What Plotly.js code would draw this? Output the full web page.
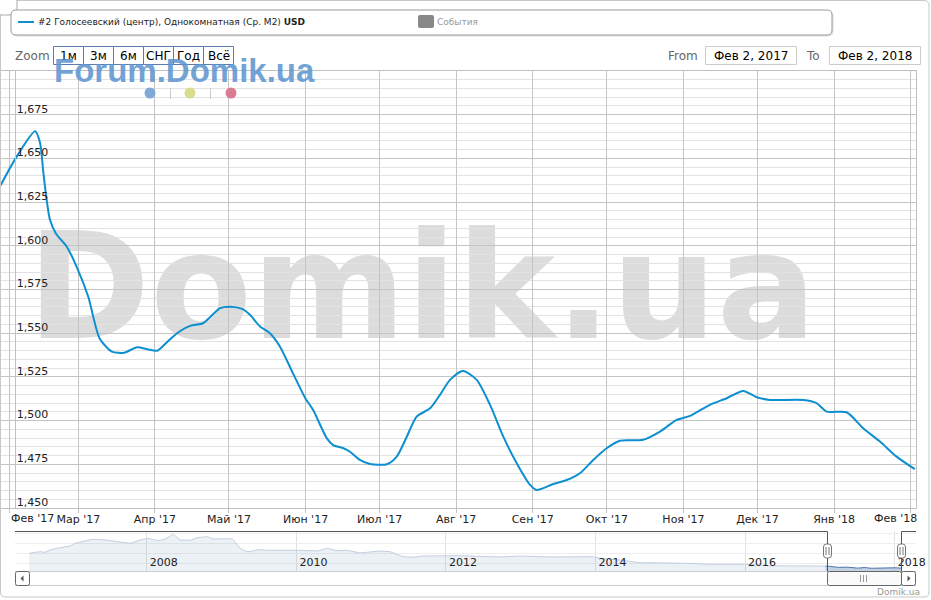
<!DOCTYPE html>
<html>
<head>
<meta charset="utf-8">
<script src="https://cdn.plot.ly/plotly-3.0.1.min.js"></script>
<style>html,body{margin:0;padding:0;background:#fff;}#chart{width:931px;height:600px;}</style>
</head>
<body>
<div id="chart"></div>
<script>
// ---- main series: #2 Голосеевский (центр), Однокомнатная (Ср. М2) USD ----
const mainDates = ['2017-01-28 07:00','2017-02-04 01:00','2017-02-11 12:00','2017-02-13 12:00','2017-02-14 20:00','2017-02-16 05:00','2017-02-17 12:00','2017-02-19 22:00','2017-02-24 08:00','2017-02-28 08:00','2017-03-05 00:00','2017-03-09 15:00','2017-03-14 14:00','2017-03-19 12:00','2017-03-24 20:00','2017-03-29 00:00','2017-04-02 00:00','2017-04-06 00:00','2017-04-10 00:00','2017-04-15 06:00','2017-04-20 12:00','2017-04-27 10:00','2017-05-01 10:00','2017-05-06 08:00','2017-05-09 12:00','2017-05-13 14:00','2017-05-17 14:00','2017-05-21 16:00','2017-05-26 22:00','2017-05-31 20:00','2017-06-04 02:00','2017-06-09 14:00','2017-06-12 04:00','2017-06-16 08:00','2017-06-19 00:00','2017-06-23 00:00','2017-06-27 02:00','2017-07-03 22:00','2017-07-07 22:00','2017-07-12 00:00','2017-07-16 00:00','2017-07-21 10:00','2017-07-25 10:00','2017-07-29 12:00','2017-08-03 17:00','2017-08-09 07:00','2017-08-14 17:00','2017-08-20 02:00','2017-08-25 12:00','2017-08-30 22:00','2017-09-02 14:00','2017-09-09 07:00','2017-09-14 17:00','2017-09-20 02:00','2017-09-25 12:00','2017-09-30 22:00','2017-10-06 07:00','2017-10-15 17:00','2017-10-22 12:00','2017-10-29 07:00','2017-11-03 17:00','2017-11-11 17:00','2017-11-18 12:00','2017-11-25 05:00','2017-11-30 17:00','2017-12-06 00:00','2017-12-19 12:00','2017-12-24 22:00','2017-12-29 00:00','2018-01-06 02:00','2018-01-12 19:00','2018-01-19 14:00','2018-01-26 07:00','2018-02-02 17:00'];
const mainValues = [1634,1651,1665.5,1659,1642,1626,1615,1607,1599.5,1588,1571,1547,1539.5,1538.8,1542,1540.8,1540,1545,1550,1554.2,1555.7,1564.3,1565.2,1563.9,1560.5,1553.8,1550,1542.3,1527,1513,1506,1490,1486,1484.2,1482.2,1477.5,1475.2,1475,1479.4,1490.8,1502.3,1507,1514.7,1523.3,1528.4,1523.3,1509,1490.8,1475.6,1463.2,1460.3,1463.7,1466,1469.9,1477.5,1484.2,1488.5,1489,1493.7,1500.4,1502.7,1509,1512.8,1517,1513.4,1511.8,1511.8,1510,1505.1,1504.8,1495.6,1488,1479.4,1472.2];

// ---- navigator history (before the selected window) ----
const navDates = ['2006-06-05','2006-07-28','2006-08-22','2006-09-15','2006-11-03','2006-12-22','2007-01-16','2007-03-06','2007-04-09','2007-06-12','2007-08-24','2007-10-12','2007-11-29','2008-01-07','2008-02-25','2008-03-31','2008-05-09','2008-06-12','2008-07-31','2008-09-03','2008-10-22','2008-11-20','2009-02-21','2009-04-01','2009-04-25','2009-05-19','2009-06-22','2009-08-25','2010-01-19','2010-04-12','2010-05-31','2010-07-19','2010-09-05','2010-11-07','2011-02-13','2011-04-03','2011-06-05','2011-07-24','2011-09-10','2012-01-06','2012-03-10','2012-09-22','2012-12-28','2013-05-23','2013-10-17','2013-12-19','2014-01-22','2014-04-29','2014-08-05','2014-11-11','2015-04-07','2015-07-13','2015-10-19','2016-01-24','2016-05-01','2016-08-07','2016-11-13'];
const navValues = [2644,2770,2723,2904,3085,3219,3431,3612,3746,3691,3557,3431,3691,3825,3636,3770,4140,3691,3668,3872,3951,3770,3794,3038,2825,2770,2927,2880,2880,2825,3038,2849,2880,2668,2825,2770,2376,2329,2431,2431,2455,2353,2431,2353,2329,2376,2250,2116,1904,1904,1856,1778,1801,1778,1667,1667,1644];

// ---- axis ticks / labels ----
const monthTicks = ['2017-02-01','2017-03-01','2017-04-01','2017-05-01','2017-06-01','2017-07-01','2017-08-01','2017-09-01','2017-10-01','2017-11-01','2017-12-01','2018-01-01','2018-02-01'];
const monthLabels = ["Фев '17","Мар '17","Апр '17","Май '17","Июн '17","Июл '17","Авг '17","Сен '17","Окт '17","Ноя '17","Дек '17","Янв '18","Фев '18"];
const yTicks = [1450,1475,1500,1525,1550,1575,1600,1625,1650,1675];
const navYearTicks = ['2008-01-01','2010-01-01','2012-01-01','2014-01-01','2016-01-01','2018-01-01'];
const navYearLabels = ['2008','2010','2012','2014','2016','2018'];
const zoomLabels = ['1м','3м','6м','СНГ','Год','Всё'];
const seriesName = '#2 Голосеевский (центр), Однокомнатная (Ср. М2)';
const seriesUnit = 'USD';
const fromDate = 'Фев 2, 2017';
const toDate = 'Фев 2, 2018';

const W = 931, H = 600;
const px = x => x / W;
const py = y => 1 - y / H;
const FONT = 'DejaVu Sans, sans-serif';

function rect(x0, y0, x1, y1, o) {
  return Object.assign({type:'rect', xref:'paper', yref:'paper', x0:px(x0), x1:px(x1), y0:py(y1), y1:py(y0), line:{width:1, color:'#ccc'}, fillcolor:'rgba(0,0,0,0)', layer:'above'}, o || {});
}
function line(x0, y0, x1, y1, color, o) {
  return Object.assign({type:'line', xref:'paper', yref:'paper', x0:px(x0), x1:px(x1), y0:py(y0), y1:py(y1), line:{width:1, color:color}, layer:'above'}, o || {});
}
function rrect(x0, y0, x1, y1, r, o) {
  const P = (x, y) => px(x) + ',' + py(y);
  const d = 'M' + P(x0 + r, y0) + ' L' + P(x1 - r, y0) + ' Q' + P(x1, y0) + ' ' + P(x1, y0 + r) +
    ' L' + P(x1, y1 - r) + ' Q' + P(x1, y1) + ' ' + P(x1 - r, y1) +
    ' L' + P(x0 + r, y1) + ' Q' + P(x0, y1) + ' ' + P(x0, y1 - r) +
    ' L' + P(x0, y0 + r) + ' Q' + P(x0, y0) + ' ' + P(x0 + r, y0) + ' Z';
  return Object.assign({type:'path', xref:'paper', yref:'paper', path:d, line:{width:1, color:'#aaa'}, fillcolor:'#fff', layer:'above'}, o || {});
}
function poly(pts, o) {
  const d = pts.map((p, i) => (i ? 'L' : 'M') + px(p[0]) + ',' + py(p[1])).join(' ') + ' Z';
  return Object.assign({type:'path', xref:'paper', yref:'paper', path:d, line:{width:0}, fillcolor:'#444', layer:'above'}, o || {});
}
function text(t, x, y, o) {
  return Object.assign({text:t, xref:'paper', yref:'paper', x:px(x), y:py(y), showarrow:false, xanchor:'left', yanchor:'middle', font:{family:FONT, size:12, color:'#000'}, borderpad:0, borderwidth:0}, o || {});
}

const traces = [
  {x: navDates.concat([mainDates[0]]), y: navValues.concat([mainValues[0]]), xaxis:'x2', yaxis:'y2', mode:'lines', fill:'tozeroy',
   fillcolor:'rgba(69,114,167,0.10)', line:{color:'#c4cfe2', width:1}, hoverinfo:'skip'},
  {x: mainDates, y: mainValues, xaxis:'x2', yaxis:'y2', mode:'lines', fill:'tozeroy',
   fillcolor:'rgba(69,114,167,0.32)', line:{color:'#4a72aa', width:1}, hoverinfo:'skip'},
  {x: mainDates, y: mainValues, xaxis:'x', yaxis:'y', mode:'lines', name: seriesName,
   line:{color:'#0d8fd0', width:2, shape:'spline', smoothing:0.7}}
];

const shapes = [];
// outer container
shapes.push(rrect(0.5, 0.5, 929, 597, 5, {line:{width:1, color:'#c8c8c8'}, fillcolor:'rgba(0,0,0,0)'}));
// watermark (below traces)
shapes.push({type:'rect', xref:'paper', yref:'paper', x0:px(36), x1:px(808), y0:py(335), y1:py(216), line:{width:0}, fillcolor:'rgba(0,0,0,0)', layer:'below',
  label:{text:'<b>Domik.ua</b>', font:{family:'DejaVu Sans', size:148, color:'#dcdcdc'}, textposition:'middle center', padding:0}});
// small top-left box
shapes.push(rrect(-3, -3, 17, 15, 3, {line:{width:1, color:'#aaa'}}));
// legend box (shadow + box)
shapes.push(rrect(12, 11, 833, 36, 5, {line:{width:1, color:'#ddd'}, fillcolor:'#eee'}));
shapes.push(rrect(11, 10, 832, 35, 5, {line:{width:1, color:'#999'}}));
shapes.push(line(18, 22, 34, 22, '#0d8fd0', {line:{width:2, color:'#0d8fd0'}}));
shapes.push(rrect(418, 15, 434, 28, 2, {line:{width:0}, fillcolor:'#888'}));
// zoom buttons
zoomLabels.forEach((l, i) => shapes.push(rect(53.5 + 30 * i, 46.5, 83.5 + 30 * i, 64.5, {line:{width:1, color:'#5b7db1'}})));
// date inputs
shapes.push(rect(705.5, 46.5, 796.5, 64.5, {line:{width:1, color:'#ccc'}}));
shapes.push(rect(829.5, 46.5, 920.5, 64.5, {line:{width:1, color:'#ccc'}}));
// watermark dots
shapes.push({type:'circle', xref:'paper', yref:'paper', x0:px(144.5), x1:px(155.5), y0:py(98.5), y1:py(87.5), line:{width:0}, fillcolor:'#7fa9d8'});
shapes.push({type:'circle', xref:'paper', yref:'paper', x0:px(184.5), x1:px(195.5), y0:py(98.5), y1:py(87.5), line:{width:0}, fillcolor:'#d9dc8c'});
shapes.push({type:'circle', xref:'paper', yref:'paper', x0:px(225.5), x1:px(236.5), y0:py(98.5), y1:py(87.5), line:{width:0}, fillcolor:'#d97b92'});
shapes.push(line(170.5, 88, 170.5, 99, '#ccc'));
shapes.push(line(210.5, 88, 210.5, 99, '#ccc'));
// plot inner left line
shapes.push(line(15.5, 71, 15.5, 508, '#c0c0c0'));
// scrollbar track
shapes.push(line(15, 571.5, 916, 571.5, '#ccc'));
shapes.push(line(15, 585.5, 916, 585.5, '#ccc'));
// navigator outline
shapes.push(line(15, 531.5, 827.5, 531.5, '#555'));
shapes.push(line(901.5, 531.5, 916, 531.5, '#555'));
shapes.push(line(827.5, 531.5, 827.5, 571.5, '#555'));
shapes.push(line(901.5, 531.5, 901.5, 571.5, '#555'));
// scrollbar thumb
shapes.push(rrect(827.5, 571.5, 901.5, 585.5, 2, {line:{width:1, color:'#666'}, fillcolor:'#fafafa'}));
[860.5, 863.5, 866.5].forEach(x => shapes.push(line(x, 575, x, 582, '#999')));
// scroll arrows
shapes.push(rrect(15.5, 571.5, 29.5, 585.5, 2, {line:{width:1, color:'#666'}, fillcolor:'#fff'}));
shapes.push(rrect(901.5, 571.5, 915.5, 585.5, 2, {line:{width:1, color:'#666'}, fillcolor:'#fff'}));
shapes.push(poly([[23.5, 575.5], [20.5, 578.5], [23.5, 581.5]], {fillcolor:'#555'}));
shapes.push(poly([[907.5, 575.5], [910.5, 578.5], [907.5, 581.5]], {fillcolor:'#555'}));
// navigator handles
[827.5, 901.5].forEach(x => {
  shapes.push(rrect(x - 4, 544, x + 4, 558, 3, {line:{width:1, color:'#777'}, fillcolor:'#fff'}));
  shapes.push(line(x - 1.5, 547, x - 1.5, 555, '#777'));
  shapes.push(line(x + 1.5, 547, x + 1.5, 555, '#777'));
});

const annotations = [];
annotations.push(text(seriesName + ' <b>' + seriesUnit + '</b>', 38, 22.5, {font:{family:FONT, size:9, color:'#222'}}));
annotations.push(text('События', 437, 22.5, {font:{family:FONT, size:9, color:'#999'}}));
annotations.push(text('Zoom', 15, 56, {font:{family:FONT, size:12, color:'#666'}}));
zoomLabels.forEach((l, i) => annotations.push(text(l, 68.5 + 30 * i, 55.5, {xanchor:'center', font:{family:FONT, size:12, color:'#000'}})));
annotations.push(text('From', 668, 56, {font:{family:FONT, size:12, color:'#666'}}));
annotations.push(text('To', 806, 56, {font:{family:FONT, size:12, color:'#666'}}));
annotations.push(text(fromDate, 751, 55.5, {xanchor:'center', font:{family:FONT, size:12, color:'#000'}}));
annotations.push(text(toDate, 875, 55.5, {xanchor:'center', font:{family:FONT, size:12, color:'#000'}}));
annotations.push(text('Forum.Domik.ua', 54, 70, {font:{family:'Liberation Sans, Arial, sans-serif', size:33, color:'rgba(96,150,208,0.88)', weight:'bold'}}));
// edge month labels kept inside the plot width, as in the reference
annotations.push(text(monthLabels[0], 11, 518.5, {font:{family:FONT, size:11, color:'#222'}}));
annotations.push(text(monthLabels[monthLabels.length - 1], 917, 518.5, {xanchor:'right', font:{family:FONT, size:11, color:'#222'}}));
annotations.push(text('Domik.ua', 920, 592, {xanchor:'right', font:{family:FONT, size:9, color:'#999'}}));

const xTickText = monthLabels.map((l, i) => (i === 0 || i === monthLabels.length - 1) ? '' : l);

const layout = {
  width: W, height: H,
  margin: {l:0, r:0, t:0, b:0},
  paper_bgcolor: '#fff', plot_bgcolor: 'rgba(0,0,0,0)',
  showlegend: false, hovermode: false,
  font: {family: FONT, size: 11, color: '#222'},
  xaxis: {domain:[0, px(916)], anchor:'y', type:'date', range:['2017-01-28 07:00','2018-02-03 04:00'],
    tickmode:'array', tickvals: monthTicks, ticktext: xTickText,
    showgrid:true, gridcolor:'#c4c4c4', ticks:'outside', ticklen:4, tickcolor:'#c4c4c4',
    ticklabelstandoff:-3, ticklabeloverflow:'allow',
    showline:true, mirror:true, linecolor:'#c0c0c0', zeroline:false, fixedrange:true,
    tickfont:{family:FONT, size:11, color:'#222'}},
  yaxis: {domain:[py(508), py(71)], anchor:'x', range:[1450, 1700],
    tickmode:'array', tickvals: yTicks, tickformat:',.0f',
    ticklabelposition:'inside', ticklabelstandoff:16, ticklabelshift:-6, ticklabeloverflow:'allow',
    showgrid:true, gridcolor:'#c4c4c4', ticks:'',
    minor:{tickmode:'linear', tick0:1450, dtick:5, showgrid:true, gridcolor:'#e2e2e2', ticks:''},
    showline:true, mirror:true, linecolor:'#c0c0c0', zeroline:false, fixedrange:true,
    tickfont:{family:FONT, size:11, color:'#222'}},
  xaxis2: {domain:[px(15), px(916)], anchor:'y2', type:'date', range:['2006-03-28','2018-04-15'],
    tickmode:'array', tickvals: navYearTicks, ticktext: navYearLabels,
    ticklabelposition:'inside', ticklabelshift:17, ticklabelstandoff:0, ticklabeloverflow:'allow',
    showgrid:true, gridcolor:'#e2e2e2', ticks:'', showline:false, zeroline:false, fixedrange:true,
    tickfont:{family:FONT, size:11, color:'#222'}},
  yaxis2: {domain:[py(571), py(531)], anchor:'x2', range:[1250, 4400],
    tickmode:'linear', tick0:1880, dtick:787.5, showticklabels:false,
    showgrid:true, gridcolor:'#eeeeee', zeroline:false, fixedrange:true},
  shapes: shapes,
  annotations: annotations
};

Plotly.newPlot('chart', traces, layout, {displayModeBar:false, staticPlot:true});
</script>
</body>
</html>
